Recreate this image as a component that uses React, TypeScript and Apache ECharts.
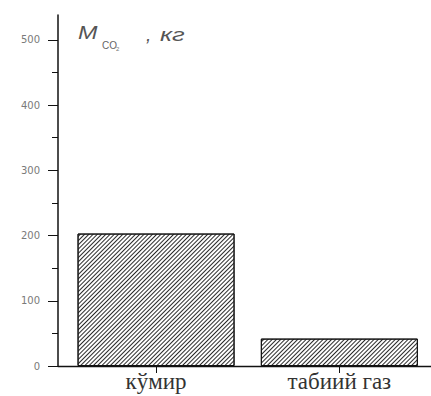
import React, { useEffect, useRef } from "react";
import * as echarts from "echarts";

const categories = ["кўмир", "табиий газ"];
const categoryPositions = [1, 2];
const values = [203, 42];
const yTickLabels = [0, 100, 200, 300, 400, 500];
const yMinorTicks = [50, 150, 250, 350, 450];

export default function App() {
  const ref = useRef<HTMLDivElement>(null);
  useEffect(() => {
    if (!ref.current) return;
    const chart = echarts.init(ref.current, null, { renderer: "svg" });
    const hatch = {
      symbol: "rect",
      symbolSize: 1,
      dashArrayX: [1, 0],
      dashArrayY: [1, 1.7],
      rotation: -Math.PI / 4,
      color: "#2a2a2a",
      backgroundColor: "#ffffff",
    };
    chart.setOption({
      animation: false,
      backgroundColor: "#ffffff",
      grid: { left: 58, right: 0, top: 15, bottom: 30 },
      xAxis: {
        type: "value",
        min: 0.465,
        max: 2.5,
        splitLine: { show: false },
        axisLine: { show: true, onZero: false, lineStyle: { color: "#111", width: 1.3 } },
        axisTick: { show: true, length: 7, customValues: categoryPositions, lineStyle: { color: "#111", width: 1 } },
        axisLabel: {
          customValues: categoryPositions,
          formatter: (v: number) => categories[categoryPositions.indexOf(Math.round(v))] ?? "",
          fontFamily: "Liberation Serif",
          fontSize: 23,
          color: "#333",
          margin: 4,
        },
      },
      yAxis: [
        {
          type: "value",
          min: 0,
          max: 538,
          splitLine: { show: false },
          axisLine: { show: true, lineStyle: { color: "#111", width: 1.5 } },
          axisTick: { show: true, length: 10, customValues: yTickLabels, lineStyle: { color: "#111", width: 1 } },
          axisLabel: {
            customValues: yTickLabels,
            fontFamily: "DejaVu Sans",
            fontSize: 10,
            color: "#7a7a7a",
            margin: 18,
          },
        },
        {
          type: "value",
          position: "left",
          min: 0,
          max: 538,
          splitLine: { show: false },
          axisLine: { show: false },
          axisTick: { show: true, length: 6, customValues: yMinorTicks, lineStyle: { color: "#111", width: 1 } },
          axisLabel: { show: false },
        },
      ],
      series: [
        {
          type: "bar",
          yAxisIndex: 0,
          barWidth: 157,
          data: categoryPositions.map((p, i) => [p, values[i]]),
          itemStyle: {
            color: "#ffffff",
            borderColor: "#111",
            borderWidth: 1,
            decal: hatch,
          },
        },
      ],
      graphic: [
        {
          type: "text",
          x: 78,
          y: 24,
          scaleX: 1.3,
          style: { text: "M", font: "italic 18px 'Liberation Sans'", fill: "#555" },
        },
        {
          type: "text",
          x: 102,
          y: 40,
          style: { text: "CO", font: "10px 'Liberation Sans'", fill: "#666" },
        },
        {
          type: "text",
          x: 116,
          y: 46,
          style: { text: "2", font: "6px 'Liberation Sans'", fill: "#777" },
        },
        {
          type: "text",
          x: 146,
          y: 25,
          style: { text: ",", font: "italic 19px 'Liberation Sans'", fill: "#555" },
        },
        {
          type: "text",
          x: 160,
          y: 25,
          scaleX: 1.35,
          style: { text: "кг", font: "italic 19px 'Liberation Sans'", fill: "#555" },
        },
      ],
    });
    return () => chart.dispose();
  }, []);
  return <div ref={ref} style={{ width: 431, height: 396, position: "absolute", left: 0, top: 0 }} />;
}
